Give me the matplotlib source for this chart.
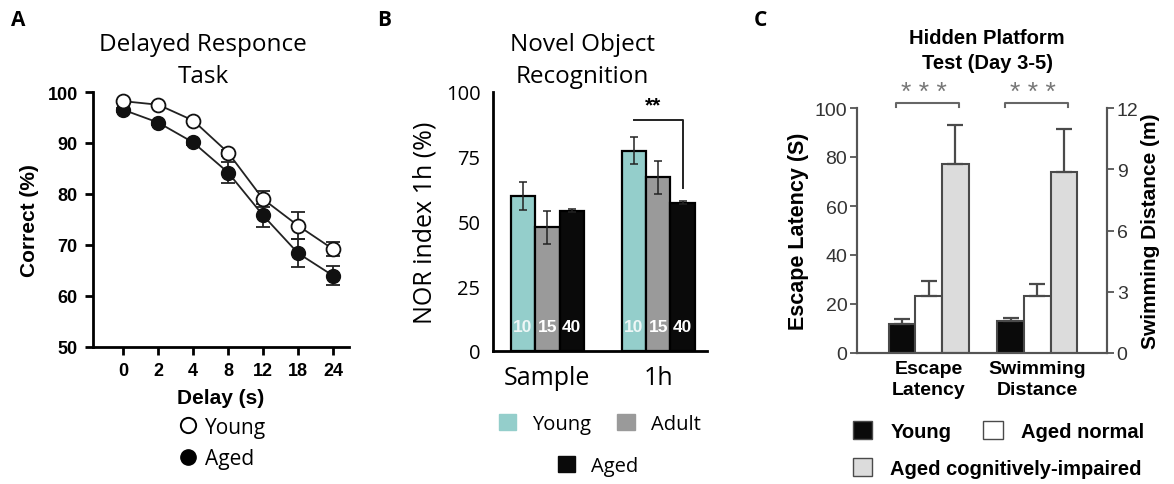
import matplotlib.pyplot as plt
from matplotlib.lines import Line2D
from matplotlib.patches import Patch

# ─── Data ─────────────────────────────────────────────────────────────────────

delays = ["0", "2", "4", "8", "12", "18", "24"]
young_correct = [98.2, 97.5, 94.4, 88.1, 79.0, 73.8, 69.2]
young_err = [0.3, 0.3, 0.4, 0.6, 1.5, 2.6, 1.3]
aged_correct = [96.5, 94.0, 90.1, 84.2, 75.8, 68.4, 64.0]
aged_err = [0.4, 0.4, 0.5, 2.1, 2.3, 2.7, 1.9]

nor_phases = ["Sample", "1h"]
nor_groups = ["Young", "Adult", "Aged"]
nor_young = [59.8, 77.4]
nor_adult = [47.8, 67.1]
nor_aged = [54.2, 57.3]
nor_young_err = [5.3, 5.3]
nor_adult_err = [6.4, 6.4]
nor_aged_err = [0.6, 0.5]
nor_counts = ["10", "15", "40"]

mwm_measures = ["Escape\nLatency", "Swimming\nDistance"]
mwm_groups = ["Young", "Aged normal", "Aged cognitively-impaired"]
escape_latency = [11.7, 23.4, 77.3]      # s
escape_latency_err = [2.2, 6.0, 15.9]
swim_distance = [1.55, 2.78, 8.85]       # m
swim_distance_err = [0.15, 0.60, 2.12]

# ─── Style ────────────────────────────────────────────────────────────────────

W, H = 1174, 485
ARIAL = "Liberation Sans"
SEGOE = "Open Sans"
TEAL = "#94cecb"
GREY = "#9a9a9a"
BLACK = "#0a0a0a"
C_EDGE = "#4a4a4a"
C_LIGHT = "#dcdcdc"


def fx(px):
    return px / W


def fy(py):
    return 1 - py / H


fig = plt.figure(figsize=(W / 100, H / 100), dpi=100)

# ─── Panel A: delayed response ────────────────────────────────────────────────

ax_a = fig.add_axes([fx(93), fy(348), fx(349 - 93), (348 - 93) / H])
xa = list(range(len(delays)))
ax_a.errorbar(xa, young_correct, yerr=young_err, color="#222222", lw=1.3,
              marker="o", ms=10, mfc="white", mec="#111111", mew=1.3,
              capsize=5, elinewidth=1.3, capthick=1.3, zorder=3)
ax_a.errorbar(xa, aged_correct, yerr=aged_err, color="#222222", lw=1.3,
              marker="o", ms=10, mfc="#111111", mec="#111111",
              capsize=5, elinewidth=1.3, capthick=1.3, zorder=2)
ax_a.set_xlim(-0.87, 6.46)
ax_a.set_ylim(50, 100)
ax_a.set_yticks([50, 60, 70, 80, 90, 100])
ax_a.set_xticks(xa)
ax_a.set_xticklabels(delays)
for s in ["top", "right"]:
    ax_a.spines[s].set_visible(False)
for s in ["left", "bottom"]:
    ax_a.spines[s].set_linewidth(2)
ax_a.tick_params(width=2, length=6, labelsize=13, pad=5)
for lab in ax_a.get_xticklabels() + ax_a.get_yticklabels():
    lab.set_fontfamily(ARIAL)
    lab.set_fontweight("bold")
ax_a.set_ylabel("Correct (%)", fontsize=15, fontweight="bold", family=ARIAL, labelpad=6)
ax_a.set_xlabel("Delay (s)", fontsize=15, fontweight="bold", family=ARIAL, labelpad=6)
fig.text(fx(203), fy(61), "Delayed Responce\nTask", ha="center", va="center",
         fontsize=17.5, family=SEGOE, linespacing=1.45)
fig.legend(handles=[Line2D([], [], marker="o", ls="none", ms=11, mfc="white", mec="black", mew=1.4),
                    Line2D([], [], marker="o", ls="none", ms=11, mfc="black", mec="black")],
           labels=["Young", "Aged"], loc="center left", bbox_to_anchor=(fx(178), fy(444)),
           frameon=False, prop={"family": SEGOE, "size": 15}, handlelength=1.0,
           handletextpad=0.3, labelspacing=0.5, borderpad=0, borderaxespad=0)

# ─── Panel B: novel object recognition ────────────────────────────────────────

ax_b = fig.add_axes([fx(493), fy(352), fx(707 - 493), (352 - 93) / H])
wb = 0.22
xb = range(len(nor_phases))
series_b = [(nor_young, nor_young_err, TEAL), (nor_adult, nor_adult_err, GREY),
            (nor_aged, nor_aged_err, BLACK)]
for i, (vals, errs, col) in enumerate(series_b):
    pos = [x + (i - 1) * wb for x in xb]
    ax_b.bar(pos, vals, width=wb, color=col, edgecolor="black", lw=1.6, zorder=2)
    ax_b.errorbar(pos, vals, yerr=errs, fmt="none", ecolor="#222222",
                  elinewidth=1.1, capsize=3, capthick=1.1, zorder=3)
    for x in pos:
        ax_b.text(x, 9.5, nor_counts[i], ha="center", va="center", color="white",
                  alpha=0.85 if i == 0 else 1.0, fontsize=12.5,
                  fontweight="bold", family=ARIAL, zorder=4)
# significance bracket, 1h young vs aged
ax_b.plot([1 - wb, 1 + wb, 1 + wb], [89, 89, 63], color="#222222", lw=1.4)
ax_b.text(1 - 0.05, 95, "**", ha="center", va="center", fontsize=15,
          fontweight="bold", family=ARIAL)
ax_b.set_xlim(-0.49, 1.44)
ax_b.set_ylim(0, 100)
ax_b.set_yticks([0, 25, 50, 75, 100])
ax_b.set_xticks(list(xb))
ax_b.set_xticklabels(nor_phases)
for s in ["top", "right"]:
    ax_b.spines[s].set_visible(False)
for s in ["left", "bottom"]:
    ax_b.spines[s].set_linewidth(2)
ax_b.tick_params(axis="y", length=0, labelsize=14.5, pad=9)
ax_b.tick_params(axis="x", length=0, labelsize=18, pad=10)
for lab in ax_b.get_xticklabels() + ax_b.get_yticklabels():
    lab.set_fontfamily(SEGOE)
ax_b.set_ylabel("NOR index 1h (%)", fontsize=18, family=SEGOE, labelpad=6)
fig.text(fx(582), fy(61), "Novel Object\nRecognition", ha="center", va="center",
         fontsize=17.5, family=SEGOE, linespacing=1.45)
sq = dict(handlelength=0.85, handleheight=0.85, frameon=False, borderpad=0,
          borderaxespad=0, handletextpad=0.8, prop={"family": SEGOE, "size": 14.5})
fig.legend(handles=[Patch(color=TEAL), Patch(color=GREY)], labels=nor_groups[:2],
           ncol=2, columnspacing=1.3, loc="center left",
           bbox_to_anchor=(fx(499), fy(425)), **sq)
fig.legend(handles=[Patch(color=BLACK)], labels=nor_groups[2:], loc="center left",
           bbox_to_anchor=(fx(558), fy(467)), **sq)

# ─── Panel C: hidden platform test ────────────────────────────────────────────

ax_c = fig.add_axes([fx(857), fy(354), fx(1107 - 857), (354 - 109) / H])
ax_r = ax_c.twinx()
wc = 0.245
fills = [BLACK, "white", C_LIGHT]
for i in range(3):
    ax_c.bar(0 + (i - 1) * wc, escape_latency[i], width=wc, color=fills[i],
             edgecolor=C_EDGE, lw=1.5, zorder=2)
    ax_c.errorbar(0 + (i - 1) * wc, escape_latency[i], yerr=[[0], [escape_latency_err[i]]],
                  fmt="none", ecolor=C_EDGE, elinewidth=1.6, capsize=6, capthick=1.6)
    ax_r.bar(1 + (i - 1) * wc, swim_distance[i], width=wc, color=fills[i],
             edgecolor=C_EDGE, lw=1.5, zorder=2)
    ax_r.errorbar(1 + (i - 1) * wc, swim_distance[i], yerr=[[0], [swim_distance_err[i]]],
                  fmt="none", ecolor=C_EDGE, elinewidth=1.6, capsize=6, capthick=1.6)
for g in [0, 1]:
    ax_c.plot([g - 1.23 * wc, g - 1.23 * wc, g + 1.15 * wc, g + 1.15 * wc],
              [100.5, 102, 102, 100.5], color="#666666", lw=1.5, clip_on=False)
    ax_c.text(g - 0.04, 106.5, "* * *", ha="center", va="center", fontsize=19,
              color="#777777", family=ARIAL, clip_on=False)
ax_c.set_xlim(-0.66, 1.64)
ax_c.set_ylim(0, 100)
ax_r.set_ylim(0, 12)
ax_c.set_yticks([0, 20, 40, 60, 80, 100])
ax_r.set_yticks([0, 3, 6, 9, 12])
ax_c.set_xticks([0, 1])
ax_c.set_xticklabels(mwm_measures, fontsize=14, fontweight="bold", family=ARIAL,
                     linespacing=1.3)
for a in [ax_c, ax_r]:
    a.spines["top"].set_visible(False)
    for s in ["left", "right", "bottom"]:
        a.spines[s].set_color("#555555")
        a.spines[s].set_linewidth(1.5)
    a.tick_params(axis="y", colors="#555555", labelcolor="#333333", width=1.3,
                  length=5, labelsize=14, pad=2)
    for lab in a.get_yticklabels():
        lab.set_fontfamily(ARIAL)
ax_c.tick_params(axis="x", length=0, pad=5)
ax_c.set_ylabel("Escape Latency (S)", fontsize=15.5, fontweight="bold", family=ARIAL, labelpad=4)
ax_r.set_ylabel("Swimming Distance (m)", fontsize=15, fontweight="bold", family=ARIAL,
                labelpad=2, rotation=90)
fig.text(fx(987), fy(51), "Hidden Platform\nTest (Day 3-5)", ha="center", va="center",
         fontsize=14.5, fontweight="bold", family=ARIAL, linespacing=1.35)
sq_c = dict(handlelength=0.95, handleheight=0.95, frameon=False, borderpad=0,
            borderaxespad=0, handletextpad=0.9,
            prop={"family": ARIAL, "size": 14.5, "weight": "bold"})
fig.legend(handles=[Patch(facecolor=BLACK, edgecolor=C_EDGE), Patch(facecolor="white", edgecolor=C_EDGE)],
           labels=mwm_groups[:2], ncol=2, columnspacing=1.6, loc="center left",
           bbox_to_anchor=(fx(853), fy(432)), **sq_c)
fig.legend(handles=[Patch(facecolor=C_LIGHT, edgecolor=C_EDGE)], labels=mwm_groups[2:],
           loc="center left", bbox_to_anchor=(fx(853), fy(469)), **sq_c)

# ─── Panel letters ────────────────────────────────────────────────────────────

for px, letter in [(18, "A"), (384, "B"), (760, "C")]:
    fig.text(fx(px), fy(20), letter, ha="center", va="center", fontsize=15,
             fontweight="bold", family="Open Sans")

fig.savefig("out.png", dpi=100)
